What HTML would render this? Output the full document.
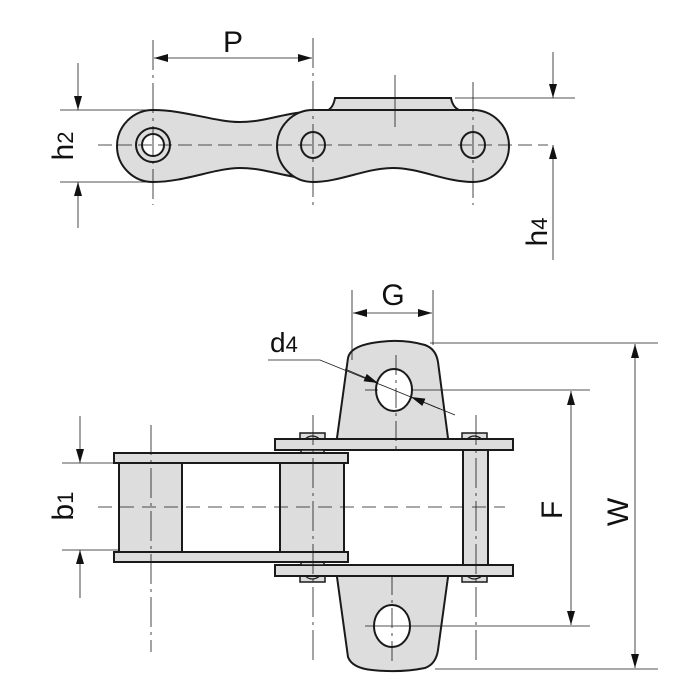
<!DOCTYPE html>
<html><head><meta charset="utf-8"><style>html,body{margin:0;padding:0;background:#fff}svg{display:block}</style></head>
<body>
<svg width="700" height="700" viewBox="0 0 700 700" xmlns="http://www.w3.org/2000/svg" font-family="Liberation Sans, sans-serif">
<defs>
<marker id="a" viewBox="0 0 14 10" refX="14" refY="5" markerWidth="14" markerHeight="8" orient="auto-start-reverse" markerUnits="userSpaceOnUse" preserveAspectRatio="none"><path d="M0,0 L14,5 L0,10 z" fill="#111"/></marker>
</defs>
<g stroke="#1a1a1a" stroke-width="1" fill="none">
<!-- TOP VIEW -->
<path d="M326,111 Q333,109 335,98 L451,98 Q453,109 462,111 Z" fill="#ddd" stroke-width="2"/>
<path d="M153,110 C185,110 215,122 240,122 C265,122 285,113 305,112 L305,178 C285,177 265,168 240,168 C215,168 185,182 153,182 A36,36 0 0 1 153,110 Z" fill="#ddd" stroke-width="2"/>
<path d="M313,110 L473,110 A36,36 0 0 1 473,182 C445,182 420,168 393,168 C366,168 340,182 313,182 A36,36 0 0 1 313,110 Z" fill="#ddd" stroke-width="2"/>
<circle cx="153" cy="145" r="17" fill="#ddd" stroke-width="2"/>
<circle cx="153" cy="145" r="11" fill="#fff" stroke-width="2"/>
<ellipse cx="313" cy="145" rx="12" ry="13" fill="#ddd" stroke-width="2"/>
<ellipse cx="473" cy="145" rx="12" ry="13" fill="#ddd" stroke-width="2"/>
<line x1="98" y1="145" x2="548" y2="145" stroke-dasharray="14,6" stroke-width="0.8"/>
<line x1="153" y1="40" x2="153" y2="205" stroke-dasharray="30,5,3,5" stroke-width="0.8"/>
<line x1="313" y1="38" x2="313" y2="205" stroke-dasharray="30,5,3,5" stroke-width="0.8"/>
<line x1="473" y1="82" x2="473" y2="205" stroke-dasharray="30,5,3,5" stroke-width="0.8"/>
<line x1="395" y1="75" x2="395" y2="127" stroke-width="0.8"/>
<line x1="154" y1="58" x2="312" y2="58" marker-start="url(#a)" marker-end="url(#a)" stroke-width="0.8"/>
<line x1="60" y1="110" x2="155" y2="110" stroke-width="0.8"/>
<line x1="60" y1="182" x2="155" y2="182" stroke-width="0.8"/>
<line x1="78" y1="63" x2="78" y2="110" marker-end="url(#a)" stroke-width="0.8"/>
<line x1="78" y1="228" x2="78" y2="182" marker-end="url(#a)" stroke-width="0.8"/>
<line x1="455" y1="98" x2="575" y2="98" stroke-width="0.8"/>
<line x1="553" y1="52" x2="553" y2="98" marker-end="url(#a)" stroke-width="0.8"/>
<line x1="553" y1="260" x2="553" y2="145" marker-end="url(#a)" stroke-width="0.8"/>

<!-- BOTTOM VIEW -->
<path d="M330,450 Q336,447 337,438 L348,358 Q350,347 372,343 Q400,338 425,345 Q436,349 438,362 L448,438 Q450,447 458,450 Z" fill="#ddd" stroke-width="2"/>
<ellipse cx="394" cy="390" rx="18" ry="21" fill="#fff" stroke-width="2"/>
<path d="M330,565 Q336,568 337,577 L348,657 Q352,668 372,670 Q400,673 425,668 Q436,664 438,650 L448,577 Q450,568 458,565 Z" fill="#ddd" stroke-width="2"/>
<ellipse cx="392" cy="626" rx="18" ry="21" fill="#fff" stroke-width="2"/>
<rect x="300" y="433" width="25" height="7" fill="#ddd" stroke-width="1.5"/>
<rect x="462" y="433" width="25" height="7" fill="#ddd" stroke-width="1.5"/>
<rect x="300" y="575" width="25" height="7" fill="#ddd" stroke-width="1.5"/>
<rect x="462" y="575" width="25" height="7" fill="#ddd" stroke-width="1.5"/>
<path d="M304,440 Q312,432 321,440 M466,440 Q474,432 483,440 M304,575 Q312,583 321,575 M466,575 Q474,583 483,575" stroke-width="1.2"/>
<rect x="275" y="439" width="238" height="11" fill="#ddd" stroke-width="2"/>
<rect x="275" y="565" width="238" height="11" fill="#ddd" stroke-width="2"/>
<rect x="301" y="450" width="23" height="115" fill="#ddd" stroke-width="1.5"/>
<rect x="463" y="450" width="25" height="115" fill="#ddd" stroke-width="2"/>
<rect x="114" y="453" width="234" height="10" fill="#ddd" stroke-width="2"/>
<rect x="114" y="552" width="234" height="10" fill="#ddd" stroke-width="2"/>
<rect x="119" y="463" width="63" height="89" fill="#ddd" stroke-width="2"/>
<rect x="280" y="463" width="64" height="89" fill="#ddd" stroke-width="2"/>
<line x1="98" y1="507" x2="505" y2="507" stroke-dasharray="14,8" stroke-width="0.8"/>
<line x1="151" y1="425" x2="151" y2="652" stroke-dasharray="30,5,3,5" stroke-width="0.8"/>
<line x1="313" y1="415" x2="313" y2="660" stroke-dasharray="30,5,3,5" stroke-width="0.8"/>
<line x1="476" y1="415" x2="476" y2="660" stroke-dasharray="30,5,3,5" stroke-width="0.8"/>
<line x1="396" y1="355" x2="396" y2="450" stroke-dasharray="20,5,3,5" stroke-width="0.8"/>
<line x1="392" y1="575" x2="392" y2="662" stroke-dasharray="20,5,3,5" stroke-width="0.8"/>
<line x1="365" y1="390" x2="378" y2="390" stroke-width="0.8"/>
<line x1="413" y1="390" x2="590" y2="390" stroke-width="0.8"/>
<line x1="365" y1="626" x2="590" y2="626" stroke-width="0.8"/>
<line x1="352" y1="290" x2="352" y2="360" stroke-width="0.8"/>
<line x1="433" y1="290" x2="433" y2="345" stroke-width="0.8"/>
<line x1="353" y1="313" x2="432" y2="313" marker-start="url(#a)" marker-end="url(#a)" stroke-width="0.8"/>
<polyline points="268,360 320,360 455,415" stroke-width="0.8"/>
<line x1="345" y1="369" x2="378" y2="383" marker-end="url(#a)" stroke-width="0.8"/>
<line x1="440" y1="409" x2="411" y2="397" marker-end="url(#a)" stroke-width="0.8"/>
<line x1="571" y1="391" x2="571" y2="625" marker-start="url(#a)" marker-end="url(#a)" stroke-width="0.8"/>
<line x1="430" y1="343" x2="658" y2="343" stroke-width="0.8"/>
<line x1="435" y1="669" x2="658" y2="669" stroke-width="0.8"/>
<line x1="635" y1="344" x2="635" y2="668" marker-start="url(#a)" marker-end="url(#a)" stroke-width="0.8"/>
<line x1="62" y1="463" x2="118" y2="463" stroke-width="0.8"/>
<line x1="62" y1="550" x2="118" y2="550" stroke-width="0.8"/>
<line x1="80" y1="416" x2="80" y2="463" marker-end="url(#a)" stroke-width="0.8"/>
<line x1="80" y1="598" x2="80" y2="550" marker-end="url(#a)" stroke-width="0.8"/>
</g>
<g fill="#111" font-size="30">
<text x="233" y="52" text-anchor="middle">P</text>
<text x="393" y="305" text-anchor="middle">G</text>
<text x="270" y="352" font-size="28">d<tspan font-size="22">4</tspan></text>
<text transform="translate(73,146) rotate(-90)" text-anchor="middle">h<tspan font-size="22">2</tspan></text>
<text transform="translate(547,232) rotate(-90)" text-anchor="middle">h<tspan font-size="22">4</tspan></text>
<text transform="translate(73,506) rotate(-90)" text-anchor="middle">b<tspan font-size="22">1</tspan></text>
<text transform="translate(562,510) rotate(-90)" text-anchor="middle">F</text>
<text transform="translate(628,512) rotate(-90)" text-anchor="middle">W</text>
</g>
</svg>
</body></html>
